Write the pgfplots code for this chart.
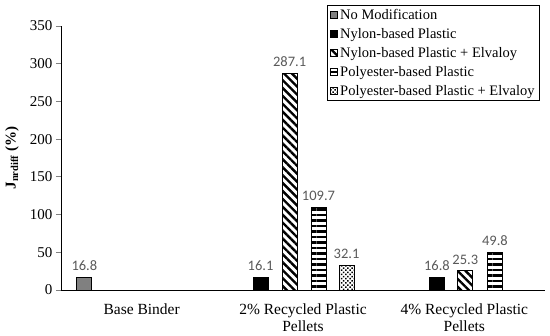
\documentclass[border=0pt]{standalone}
\usepackage{fontspec}
\setmainfont{Liberation Serif}
\newfontfamily\lblfont{Carlito}
\usepackage{pgfplots}
\pgfplotsset{compat=1.18}
\usetikzlibrary{patterns.meta}
\definecolor{lblgray}{RGB}{89,89,89}
\definecolor{nomod}{RGB}{128,128,128}
\begin{document}
\begin{tikzpicture}
\begin{axis}[
  name=ax,
  scale only axis, width=484pt, height=264pt,
  xmin=-0.5, xmax=2.5, ymin=0, ymax=350,
  ytick={0,50,...,350},
  xtick={0,1,2},
  xticklabels={Base Binder, 2\% Recycled Plastic\\Pellets, 4\% Recycled Plastic\\Pellets},
  xticklabel style={align=center, font=\fontsize{15.5}{17}\selectfont, yshift=-5pt},
  yticklabel style={font=\fontsize{15}{17}\selectfont},
  /pgf/number format/assume math mode=true,
  major x tick style={draw=none},
  axis lines=left, axis line style={-, line width=0.9pt},
  tick align=outside, major tick length=5pt,
  ytick style={line width=0.8pt},
  ylabel={\textbf{J\textsubscript{nrdiff} (\%)}},
  ylabel style={at={(axis description cs:-0.101,0.5)}, anchor=center, font=\fontsize{15}{17}\selectfont},
  ybar, bar width=15pt,
  nodes near coords={\pgfmathprintnumber[fixed,precision=1,fixed zerofill,assume math mode=true]{\pgfplotspointmeta}},
  nodes near coords style={font=\lblfont\fontsize{14.5}{16}\selectfont, text=lblgray, yshift=3pt},
  every axis plot/.append style={bar shift=0pt, draw=black, line width=0.9pt},
  legend style={at={(1,1)}, anchor=north east, xshift=-5pt, yshift=21pt,
    draw=black, line width=0.9pt, font=\fontsize{14.5}{16}\selectfont,
    row sep=3.3pt, inner xsep=3pt, inner ysep=2pt, cells={anchor=west}},
  legend cell align=left,
  legend image code/.code={\draw[#1, line width=1pt] (0.5pt,-3.5pt) rectangle (7.5pt,3.5pt);},
]
\addplot[fill=nomod] coordinates {(-0.355,16.8)};
\addplot[fill=black] coordinates {(0.737,16.1) (1.83,16.8)};
\addplot[fill=white, postaction={pattern={Lines[angle=-45,distance=5.6pt,line width=2.4pt]}}] coordinates {(0.917,287.1) (2.006,25.3)};
\addplot[fill=white, postaction={pattern={Lines[angle=0,distance=5.5pt,line width=2.3pt]}}] coordinates {(1.096,109.7) (2.19,49.8)};
\addplot[fill=white, postaction={pattern={Dots[angle=45,distance=3pt,radius=1.05pt]}}] coordinates {(1.27,32.1)};
\legend{No Modification, Nylon-based Plastic, Nylon-based Plastic + Elvaloy, Polyester-based Plastic, Polyester-based Plastic + Elvaloy}
\end{axis}
\pgfresetboundingbox
\path[use as bounding box] ([xshift=-61pt,yshift=-46pt]ax.south west) rectangle ([xshift=5pt,yshift=26pt]ax.north east);
\end{tikzpicture}
\end{document}
